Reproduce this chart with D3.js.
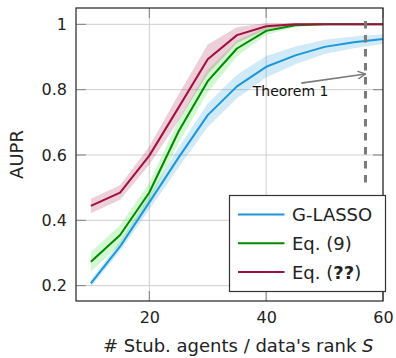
<!DOCTYPE html>
<html>
<head>
<meta charset="utf-8">
<script src="https://cdn.jsdelivr.net/npm/d3@7"></script>
<style>
  html, body { margin: 0; padding: 0; background: #fff; }
  svg { display: block; font-family: "DejaVu Sans", sans-serif; }
</style>
</head>
<body>
<svg id="chart" width="396" height="358"></svg>
<script>
// Number of stub agents (x axis)
const agents = [10, 15, 20, 25, 30, 35, 40, 45, 50, 55, 60];

// Mean AUPR per method
const glasso = [0.207, 0.320, 0.455, 0.592, 0.722, 0.810, 0.870, 0.905, 0.931, 0.945, 0.955];
const eq9    = [0.273, 0.355, 0.485, 0.672, 0.826, 0.926, 0.980, 0.997, 1.000, 1.000, 1.000];
const eqQQ   = [0.444, 0.485, 0.598, 0.745, 0.893, 0.967, 0.994, 1.000, 1.000, 1.000, 1.000];

// Half-width of the shaded spread around each mean
const glassoSpread = [0.010, 0.015, 0.022, 0.030, 0.036, 0.036, 0.033, 0.027, 0.022, 0.018, 0.015];
const eq9Spread    = [0.030, 0.030, 0.030, 0.035, 0.035, 0.024, 0.012, 0.005, 0.002, 0.001, 0.001];
const eqQQSpread   = [0.022, 0.022, 0.028, 0.040, 0.045, 0.024, 0.010, 0.004, 0.002, 0.001, 0.001];

const xTicks = [20, 40, 60];
const yTicks = [0.2, 0.4, 0.6, 0.8, 1];

// Theorem 1 marker: dashed bound and annotation
const boundX = 57;
const boundY = [0.5, 1.01];
const arrowFrom = [46, 0.82];
const arrowTo = [57, 0.848];
const noteAt = [37.7, 0.781];

const series = [
  { name: ["G-LASSO"], values: glasso, spread: glassoSpread, line: "#1b96da", band: "#1b96da", bandOpacity: 0.2 },
  { name: ["Eq. (9)"], values: eq9, spread: eq9Spread, line: "#008a00", band: "#33dd33", bandOpacity: 0.22 },
  { name: ["Eq. (", "??", ")"], values: eqQQ, spread: eqQQSpread, line: "#a0103f", band: "#a0103f", bandOpacity: 0.2 }
];

const svg = d3.select("#chart");
const m = { left: 76, top: 8, right: 13, bottom: 57 };
const W = 396 - m.left - m.right;
const H = 358 - m.top - m.bottom;

const x = d3.scaleLinear().domain([7.45, 60]).range([m.left, m.left + W]);
const y = d3.scaleLinear().domain([0.153, 1.05]).range([m.top + H, m.top]);

// grid
const grid = svg.append("g");
grid.selectAll(".gx").data(xTicks).join("line")
  .attr("x1", d => x(d)).attr("x2", d => x(d))
  .attr("y1", m.top).attr("y2", m.top + H)
  .attr("stroke", "#cfcfcf").attr("stroke-width", 1);
grid.selectAll(".gy").data(yTicks).join("line")
  .attr("x1", m.left).attr("x2", m.left + W)
  .attr("y1", d => y(d)).attr("y2", d => y(d))
  .attr("stroke", "#cfcfcf").attr("stroke-width", 1);

// inward tick marks on all four sides
const tickLen = 10;
const tk = svg.append("g").attr("stroke", "#808080").attr("stroke-width", 1);
xTicks.forEach(t => {
  tk.append("line").attr("x1", x(t)).attr("x2", x(t)).attr("y1", m.top + H).attr("y2", m.top + H - tickLen);
  tk.append("line").attr("x1", x(t)).attr("x2", x(t)).attr("y1", m.top).attr("y2", m.top + tickLen);
});
yTicks.forEach(t => {
  tk.append("line").attr("x1", m.left).attr("x2", m.left + tickLen).attr("y1", y(t)).attr("y2", y(t));
  tk.append("line").attr("x1", m.left + W).attr("x2", m.left + W - tickLen).attr("y1", y(t)).attr("y2", y(t));
});

// bands
const area = d3.area()
  .x((d, i) => x(agents[i]))
  .y0(d => y(d[0]))
  .y1(d => y(d[1]));
series.forEach(s => {
  const rows = s.values.map((v, i) => [v - s.spread[i], Math.min(v + s.spread[i], 1.005)]);
  svg.append("path").datum(rows)
    .attr("d", area)
    .attr("fill", s.band).attr("fill-opacity", s.bandOpacity);
});

// lines
const line = d3.line().x((d, i) => x(agents[i])).y(d => y(d));
series.forEach(s => {
  svg.append("path").datum(s.values)
    .attr("d", line)
    .attr("fill", "none").attr("stroke", s.line).attr("stroke-width", 2)
    .attr("stroke-linejoin", "round");
});

// frame
svg.append("rect").attr("x", m.left).attr("y", m.top).attr("width", W).attr("height", H)
  .attr("fill", "none").attr("stroke", "#222").attr("stroke-width", 1.2);

// axis labels via d3 axes (text only)
const xAxis = svg.append("g").attr("transform", `translate(0,${m.top + H})`)
  .call(d3.axisBottom(x).tickValues(xTicks).tickSize(0).tickPadding(11).tickFormat(d3.format("d")));
const yAxis = svg.append("g").attr("transform", `translate(${m.left},0)`)
  .call(d3.axisLeft(y).tickValues(yTicks).tickSize(0).tickPadding(9).tickFormat(d => d === 1 ? "1" : d3.format(".1f")(d)));
[xAxis, yAxis].forEach(a => {
  a.select(".domain").remove();
  a.selectAll("text").attr("font-size", 16).attr("fill", "#222").attr("font-family", "DejaVu Sans, sans-serif");
});

// axis titles
const xt = svg.append("text").attr("x", 103).attr("y", 352)
  .attr("font-size", 18).attr("fill", "#222");
xt.append("tspan").text("# Stub. agents / data's rank ");
xt.append("tspan").attr("font-style", "italic").text("S");

svg.append("text")
  .attr("transform", `translate(23,${m.top + H / 2}) rotate(-90)`)
  .attr("text-anchor", "middle")
  .attr("font-size", 18).attr("fill", "#222").text("AUPR");

// Theorem 1 bound
svg.append("line")
  .attr("x1", x(boundX)).attr("x2", x(boundX))
  .attr("y1", y(boundY[1])).attr("y2", y(boundY[0]))
  .attr("stroke", "#7a7a7a").attr("stroke-width", 3).attr("stroke-dasharray", "7.5,6.5");

svg.append("defs").append("marker")
  .attr("id", "head").attr("viewBox", "0 0 10 10").attr("refX", 9).attr("refY", 5)
  .attr("markerWidth", 9).attr("markerHeight", 9).attr("markerUnits", "userSpaceOnUse")
  .attr("orient", "auto")
  .append("path").attr("d", "M1,1 L9,5 L1,9").attr("fill", "none")
  .attr("stroke", "#7a7a7a").attr("stroke-width", 1.6).attr("stroke-linecap", "round");

svg.append("line")
  .attr("x1", x(arrowFrom[0])).attr("y1", y(arrowFrom[1]))
  .attr("x2", x(arrowTo[0])).attr("y2", y(arrowTo[1]))
  .attr("stroke", "#7a7a7a").attr("stroke-width", 1.6)
  .attr("marker-end", "url(#head)");

svg.append("text").attr("x", x(noteAt[0])).attr("y", y(noteAt[1]))
  .attr("font-size", 14).attr("fill", "#111").text("Theorem 1");

// legend
const lg = svg.append("g");
lg.append("rect").attr("x", 229.5).attr("y", 195.5).attr("width", 156).attr("height", 96)
  .attr("fill", "#fff").attr("stroke", "#333").attr("stroke-width", 1.2);
series.forEach((s, i) => {
  const cy = 214.5 + i * 28.8;
  lg.append("line").attr("x1", 238).attr("x2", 284.5).attr("y1", cy).attr("y2", cy)
    .attr("stroke", s.line).attr("stroke-width", 2);
  const t = lg.append("text").attr("x", 292).attr("y", cy).attr("dy", "0.36em")
    .attr("font-size", 18).attr("fill", "#222");
  // unresolved reference marks are set in bold
  s.name.forEach((part, j) => {
    t.append("tspan").attr("font-weight", part === "??" ? "bold" : null).text(part);
  });
});
</script>
</body>
</html>
